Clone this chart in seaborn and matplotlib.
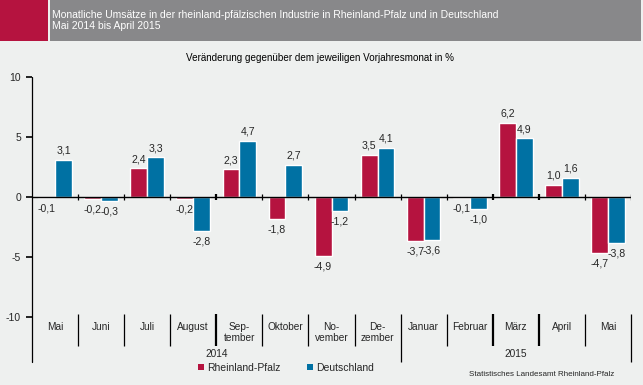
import matplotlib
matplotlib.use("Agg")
import matplotlib.pyplot as plt
from matplotlib.lines import Line2D
from matplotlib.patches import Rectangle, Patch
import seaborn as sns
import pandas as pd

# ---- data ----
month_keys = ["Mai14", "Jun14", "Jul14", "Aug14", "Sep14", "Okt14", "Nov14",
              "Dez14", "Jan15", "Feb15", "Mrz15", "Apr15", "Mai15"]
month_labels = ["Mai", "Juni", "Juli", "August", "Sep-\ntember", "Oktober",
                "No-\nvember", "De-\nzember", "Januar", "Februar", "März",
                "April", "Mai"]
series = ["Rheinland-Pfalz", "Deutschland"]
rlp = [-0.1, -0.2, 2.4, -0.2, 2.3, -1.8, -4.9, 3.5, -3.7, -0.1, 6.2, 1.0, -4.7]
de = [3.1, -0.3, 3.3, -2.8, 4.7, 2.7, -1.2, 4.1, -3.6, -1.0, 4.9, 1.6, -3.8]
years = ["2014", "2015"]
year_spans = [(0, 7), (8, 12)]
yticks = [-10, -5, 0, 5, 10]

title1 = "Monatliche Umsätze in der rheinland-pfälzischen Industrie in Rheinland-Pfalz und in Deutschland"
title2 = "Mai 2014 bis April 2015"
subtitle = "Veränderung gegenüber dem jeweiligen Vorjahresmonat in %"
source = "Statistisches Landesamt Rheinland-Pfalz"

RED = "#b5133f"
BLUE = "#0071a3"
BG = "#eef0ef"
HEAD = "#88888a"

sns.set_theme(style="white")
plt.rcParams["font.family"] = ["Liberation Sans", "DejaVu Sans"]

df = pd.DataFrame({
    "month": month_keys * 2,
    "series": [series[0]] * len(rlp) + [series[1]] * len(de),
    "value": rlp + de,
})

W, H = 643, 385
fig = plt.figure(figsize=(W / 100, H / 100), dpi=100, facecolor=BG)

def fx(x):
    return x / W

def fy(y):
    return 1 - y / H

# header
fig.add_artist(Rectangle((0, fy(41)), fx(48), 41 / H, transform=fig.transFigure,
                         facecolor=RED, edgecolor="none"))
fig.add_artist(Rectangle((fx(50), fy(41)), fx(641 - 50), 41 / H, transform=fig.transFigure,
                         facecolor=HEAD, edgecolor="none"))
fig.text(fx(52), fy(15), title1, color="white", fontsize=7.45, va="center", ha="left")
fig.text(fx(52), fy(26), title2, color="white", fontsize=7.45, va="center", ha="left")
fig.text(fx(320), fy(58), subtitle, color="black", fontsize=7.1, va="center", ha="center")

ax_top, ax_bot = 77, 317
ax = fig.add_axes([fx(32), fy(ax_bot), fx(631 - 32), (ax_bot - ax_top) / H])
ax.set_facecolor(BG)

sns.barplot(data=df, x="month", y="value", hue="series", order=month_keys,
            hue_order=series, palette=[RED, BLUE], width=0.73, gap=0,
            saturation=1, legend=False, ax=ax)

ax.set_xlim(-0.5, len(month_keys) - 0.5)
ax.set_ylim(-10, 10)
ax.set_xlabel("")
ax.set_ylabel("")
ax.set_xticks([])
ax.set_yticks(yticks)
ax.set_yticklabels([str(t) for t in yticks], fontsize=7.5)
ax.tick_params(axis="y", direction="out", length=4, width=1.2, pad=4, left=True, color="black")
for s in ["top", "right", "bottom", "left"]:
    ax.spines[s].set_visible(False)

# value labels
for cont, vals in zip(ax.containers, [rlp, de]):
    for bar, v in zip(cont, vals):
        xc = bar.get_x() + bar.get_width() / 2
        txt = f"{v:.1f}".replace(".", ",")
        if v >= 0:
            ax.annotate(txt, (xc, v), xytext=(0, 3), textcoords="offset points",
                        ha="center", va="bottom", fontsize=7.6)
        else:
            ax.annotate(txt, (xc, v), xytext=(0, -4), textcoords="offset points",
                        ha="center", va="top", fontsize=7.6)

# zero line and boundary ticks
n = len(month_keys)
ax.axhline(0, color="black", lw=1.0, zorder=3)
thick = {3.5, 9.5, 10.5}
for k in range(n):
    b = k + 0.5
    ax.plot([b, b], [-0.25, 0.25], color="black", lw=1.6 if b in thick else 0.9,
            zorder=3, solid_capstyle="butt")

# category area (below axes), y in axes fraction
trans = ax.get_xaxis_transform()
hpx = ax_bot - ax_top

def ay(y):
    return (ax_bot - y) / hpx

# left axis line extended
ax.add_line(Line2D([-0.5, -0.5], [1, ay(362)], transform=trans, color="black",
                   lw=0.9, clip_on=False))
for k in range(n):
    b = k + 0.5
    long = b in (7.5, n - 0.5)
    y_end = 362 if long else 346
    ax.add_line(Line2D([b, b], [ay(314), ay(y_end)], transform=trans, color="black",
                       lw=1.6 if b in thick else 0.9, clip_on=False, solid_capstyle="butt"))

for i, lab in enumerate(month_labels):
    for j, line in enumerate(lab.split("\n")):
        ax.text(i, ay(327 + 11 * j), line, transform=trans, ha="center", va="center",
                fontsize=7.3, clip_on=False)

for yr, (a, b) in zip(years, year_spans):
    ax.text((a + b) / 2, ay(354), yr, transform=trans, ha="center", va="center",
            fontsize=7.3, clip_on=False)

# legend
handles = [Patch(facecolor=RED, edgecolor="none", label=series[0]),
           Patch(facecolor=BLUE, edgecolor="none", label=series[1])]
fig.legend(handles=handles, ncol=2, frameon=False, fontsize=7.5, loc="center",
           bbox_to_anchor=(fx(286), fy(368)), handlelength=0.55, handleheight=0.55,
           handletextpad=0.3, columnspacing=2.6, borderpad=0, borderaxespad=0)

fig.text(fx(614), fy(374), source, fontsize=5.8, ha="right", va="center")

fig.savefig("out.png", dpi=100, facecolor=BG)
